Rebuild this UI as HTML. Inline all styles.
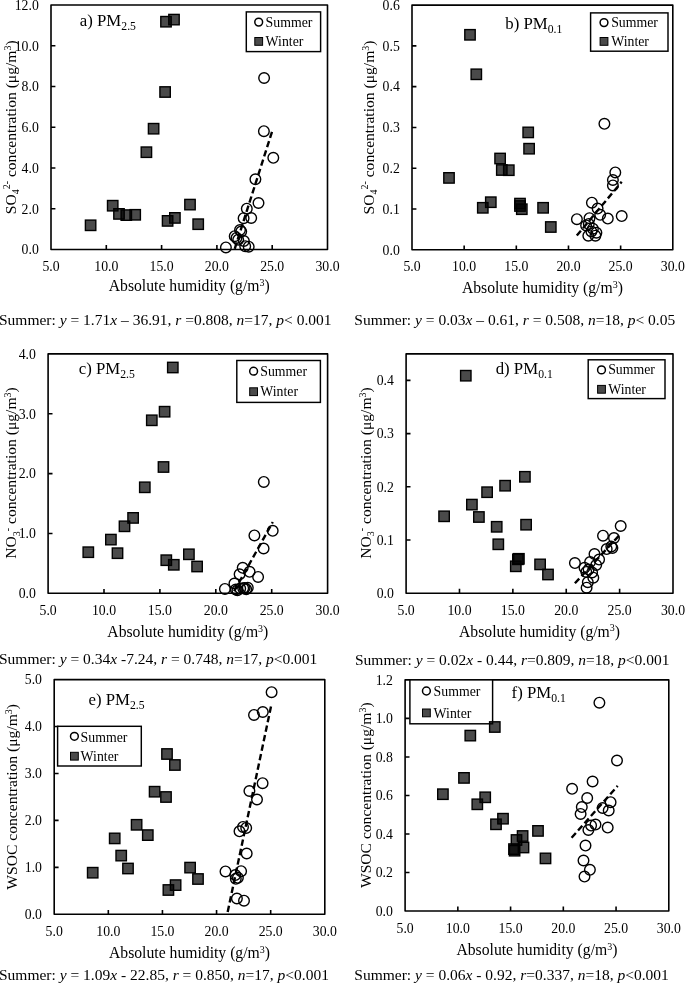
<!DOCTYPE html>
<html><head><meta charset="utf-8"><title>Figure</title>
<style>html,body{margin:0;padding:0;background:#fff}svg{display:block;will-change:transform}text{font-family:"Liberation Serif",serif;fill:#000}</style>
</head><body>
<svg width="685" height="984" viewBox="0 0 685 984">
<rect width="685" height="984" fill="#fff"/>
<g id="panel-a">
<rect x="51" y="5" width="276.5" height="244.5" fill="none" stroke="#000" stroke-width="1.6" stroke-linejoin="round"/>
<text transform="translate(51 270.9) scale(0.9 1)" font-size="15.3" text-anchor="middle">5.0</text>
<text transform="translate(106.3 270.9) scale(0.9 1)" font-size="15.3" text-anchor="middle">10.0</text>
<text transform="translate(161.6 270.9) scale(0.9 1)" font-size="15.3" text-anchor="middle">15.0</text>
<text transform="translate(216.9 270.9) scale(0.9 1)" font-size="15.3" text-anchor="middle">20.0</text>
<text transform="translate(272.2 270.9) scale(0.9 1)" font-size="15.3" text-anchor="middle">25.0</text>
<text transform="translate(327.5 270.9) scale(0.9 1)" font-size="15.3" text-anchor="middle">30.0</text>
<text transform="translate(38.8 9.8) scale(0.9 1)" font-size="15.3" text-anchor="end">12.0</text>
<text transform="translate(38.8 50.55) scale(0.9 1)" font-size="15.3" text-anchor="end">10.0</text>
<text transform="translate(38.8 91.3) scale(0.9 1)" font-size="15.3" text-anchor="end">8.0</text>
<text transform="translate(38.8 132.05) scale(0.9 1)" font-size="15.3" text-anchor="end">6.0</text>
<text transform="translate(38.8 172.8) scale(0.9 1)" font-size="15.3" text-anchor="end">4.0</text>
<text transform="translate(38.8 213.55) scale(0.9 1)" font-size="15.3" text-anchor="end">2.0</text>
<text transform="translate(38.8 254.3) scale(0.9 1)" font-size="15.3" text-anchor="end">0.0</text>
<path d="M106.3 249.5v-4.4M161.6 249.5v-4.4M216.9 249.5v-4.4M272.2 249.5v-4.4M51 45.75h4.4M51 86.5h4.4M51 127.25h4.4M51 168h4.4M51 208.75h4.4" stroke="#000" stroke-width="1.6" fill="none"/>
<text x="189.25" y="290.7" font-size="15.7" text-anchor="middle">Absolute humidity (g/m<tspan font-size="10" dy="-5.2">3</tspan><tspan dy="5.2">)</tspan></text>
<text transform="translate(16 127.3) rotate(-90)" font-size="15.6" text-anchor="middle">SO<tspan font-size="10" dy="3.2">4</tspan><tspan font-size="10" dy="-9">2-</tspan><tspan dy="5.8"> </tspan>concentration (μg/m<tspan font-size="10" dy="-5.2">3</tspan><tspan dy="5.2">)</tspan></text>
<text x="79.8" y="26.2" font-size="16.8">a) PM<tspan font-size="11.7" dy="4.2">2.5</tspan></text>
<rect x="246.3" y="11.9" width="74.3" height="39.7" fill="#fff" stroke="#000" stroke-width="1.45"/>
<circle cx="258.7" cy="22.1" r="3.9" fill="none" stroke="#000" stroke-width="1.5"/>
<rect x="254.8" y="37.5" width="7.8" height="7.8" fill="#4a4a4a" stroke="#000" stroke-width="1"/>
<text x="265.6" y="26.7" font-size="13.8">Summer</text>
<text x="265.6" y="46" font-size="13.8">Winter</text>
<g fill="#000" fill-opacity="0.71" stroke="#000" stroke-width="1.4">
<rect x="160.8" y="16.5" width="10.4" height="10.4"/>
<rect x="168.8" y="14.4" width="10.4" height="10.4"/>
<rect x="159.9" y="86.8" width="10.4" height="10.4"/>
<rect x="148.4" y="123.5" width="10.4" height="10.4"/>
<rect x="141.2" y="147" width="10.4" height="10.4"/>
<rect x="107.5" y="200.5" width="10.4" height="10.4"/>
<rect x="113.8" y="208.7" width="10.4" height="10.4"/>
<rect x="121.1" y="209.9" width="10.4" height="10.4"/>
<rect x="130" y="209.6" width="10.4" height="10.4"/>
<rect x="85.4" y="220.1" width="10.4" height="10.4"/>
<rect x="162.4" y="215.7" width="10.4" height="10.4"/>
<rect x="169.7" y="212.7" width="10.4" height="10.4"/>
<rect x="184.8" y="199.4" width="10.4" height="10.4"/>
<rect x="193" y="219" width="10.4" height="10.4"/>
</g>
<g fill="none" stroke="#000" stroke-width="1.4">
<circle cx="264.1" cy="78" r="5.3"/>
<circle cx="263.9" cy="131.2" r="5.3"/>
<circle cx="273.3" cy="157.8" r="5.3"/>
<circle cx="255.4" cy="179.3" r="5.3"/>
<circle cx="258.5" cy="203" r="5.3"/>
<circle cx="246.8" cy="208.7" r="5.3"/>
<circle cx="243.6" cy="218.2" r="5.3"/>
<circle cx="251.2" cy="218" r="5.3"/>
<circle cx="240" cy="230" r="5.3"/>
<circle cx="241.2" cy="231.5" r="5.3"/>
<circle cx="234.7" cy="236.2" r="5.3"/>
<circle cx="236.5" cy="237.9" r="5.3"/>
<circle cx="238.2" cy="239.7" r="5.3"/>
<circle cx="243.9" cy="241" r="5.3"/>
<circle cx="245.2" cy="246.2" r="5.3"/>
<circle cx="248.7" cy="246.7" r="5.3"/>
<circle cx="225.9" cy="247.4" r="5.3"/>
</g>
<line x1="272" y1="131.8" x2="234.5" y2="249.5" stroke="#000" stroke-width="2.4" stroke-dasharray="6.4 3.3"/>
<text id="cap-a" x="-1" y="324.6" font-size="15.5" xml:space="preserve">Summer: <tspan font-style="italic">y</tspan> = 1.71<tspan font-style="italic">x</tspan> – 36.91, <tspan font-style="italic">r</tspan> =0.808, <tspan font-style="italic">n</tspan>=17, <tspan font-style="italic">p</tspan>&lt; 0.001</text>
</g>
<g id="panel-b">
<rect x="412" y="5.1" width="260.8" height="244.7" fill="none" stroke="#000" stroke-width="1.6" stroke-linejoin="round"/>
<text transform="translate(412 271.1) scale(0.9 1)" font-size="15.3" text-anchor="middle">5.0</text>
<text transform="translate(464.16 271.1) scale(0.9 1)" font-size="15.3" text-anchor="middle">10.0</text>
<text transform="translate(516.32 271.1) scale(0.9 1)" font-size="15.3" text-anchor="middle">15.0</text>
<text transform="translate(568.48 271.1) scale(0.9 1)" font-size="15.3" text-anchor="middle">20.0</text>
<text transform="translate(620.64 271.1) scale(0.9 1)" font-size="15.3" text-anchor="middle">25.0</text>
<text transform="translate(672.8 271.1) scale(0.9 1)" font-size="15.3" text-anchor="middle">30.0</text>
<text transform="translate(399.8 9.9) scale(0.9 1)" font-size="15.3" text-anchor="end">0.6</text>
<text transform="translate(399.8 50.68) scale(0.9 1)" font-size="15.3" text-anchor="end">0.5</text>
<text transform="translate(399.8 91.47) scale(0.9 1)" font-size="15.3" text-anchor="end">0.4</text>
<text transform="translate(399.8 132.25) scale(0.9 1)" font-size="15.3" text-anchor="end">0.3</text>
<text transform="translate(399.8 173.03) scale(0.9 1)" font-size="15.3" text-anchor="end">0.2</text>
<text transform="translate(399.8 213.82) scale(0.9 1)" font-size="15.3" text-anchor="end">0.1</text>
<text transform="translate(399.8 254.6) scale(0.9 1)" font-size="15.3" text-anchor="end">0.0</text>
<path d="M464.16 249.8v-4.4M516.32 249.8v-4.4M568.48 249.8v-4.4M620.64 249.8v-4.4M412 45.88h4.4M412 86.67h4.4M412 127.45h4.4M412 168.23h4.4M412 209.02h4.4" stroke="#000" stroke-width="1.6" fill="none"/>
<text x="542.4" y="293.2" font-size="15.7" text-anchor="middle">Absolute humidity (g/m<tspan font-size="10" dy="-5.2">3</tspan><tspan dy="5.2">)</tspan></text>
<text transform="translate(374 127.5) rotate(-90)" font-size="15.6" text-anchor="middle">SO<tspan font-size="10" dy="3.2">4</tspan><tspan font-size="10" dy="-9">2-</tspan><tspan dy="5.8"> </tspan>concentration (μg/m<tspan font-size="10" dy="-5.2">3</tspan><tspan dy="5.2">)</tspan></text>
<text x="505.3" y="28.5" font-size="16.8">b) PM<tspan font-size="11.7" dy="4.2">0.1</tspan></text>
<rect x="590.6" y="12.9" width="77.4" height="38.3" fill="#fff" stroke="#000" stroke-width="1.45"/>
<circle cx="604" cy="22.6" r="3.9" fill="none" stroke="#000" stroke-width="1.5"/>
<rect x="600.1" y="37.5" width="7.8" height="7.8" fill="#4a4a4a" stroke="#000" stroke-width="1"/>
<text x="611.2" y="27.2" font-size="13.8">Summer</text>
<text x="611.2" y="46" font-size="13.8">Winter</text>
<g fill="#000" fill-opacity="0.71" stroke="#000" stroke-width="1.4">
<rect x="464.8" y="29.6" width="10.4" height="10.4"/>
<rect x="471.1" y="69.1" width="10.4" height="10.4"/>
<rect x="523" y="127.2" width="10.4" height="10.4"/>
<rect x="523.9" y="143.5" width="10.4" height="10.4"/>
<rect x="494.9" y="153.3" width="10.4" height="10.4"/>
<rect x="496.6" y="164.8" width="10.4" height="10.4"/>
<rect x="503.6" y="165" width="10.4" height="10.4"/>
<rect x="443.8" y="172.7" width="10.4" height="10.4"/>
<rect x="485.6" y="197" width="10.4" height="10.4"/>
<rect x="477.6" y="202.6" width="10.4" height="10.4"/>
<rect x="514.8" y="198.4" width="10.4" height="10.4"/>
<rect x="514.8" y="200.8" width="10.4" height="10.4"/>
<rect x="516.6" y="204" width="10.4" height="10.4"/>
<rect x="537.9" y="202.6" width="10.4" height="10.4"/>
<rect x="545.6" y="221.8" width="10.4" height="10.4"/>
</g>
<g fill="none" stroke="#000" stroke-width="1.4">
<circle cx="604.4" cy="123.8" r="5.3"/>
<circle cx="615.3" cy="172.4" r="5.3"/>
<circle cx="612.9" cy="180" r="5.3"/>
<circle cx="612.9" cy="185.4" r="5.3"/>
<circle cx="591.9" cy="202.7" r="5.3"/>
<circle cx="597.6" cy="208.6" r="5.3"/>
<circle cx="600.2" cy="214.8" r="5.3"/>
<circle cx="607.8" cy="218.6" r="5.3"/>
<circle cx="621.7" cy="216.1" r="5.3"/>
<circle cx="576.9" cy="219.2" r="5.3"/>
<circle cx="589.5" cy="218.2" r="5.3"/>
<circle cx="586.1" cy="225.4" r="5.3"/>
<circle cx="588.8" cy="223.9" r="5.3"/>
<circle cx="592.9" cy="228.7" r="5.3"/>
<circle cx="596.4" cy="232.7" r="5.3"/>
<circle cx="588.3" cy="235.7" r="5.3"/>
<circle cx="595.4" cy="235.7" r="5.3"/>
<circle cx="591.4" cy="231.5" r="5.3"/>
</g>
<line x1="576.8" y1="235.6" x2="621.7" y2="181.8" stroke="#000" stroke-width="2.4" stroke-dasharray="6.4 3.3"/>
<text id="cap-b" x="354.3" y="324.6" font-size="15.5" xml:space="preserve">Summer: <tspan font-style="italic">y</tspan> = 0.03<tspan font-style="italic">x</tspan> – 0.61, <tspan font-style="italic">r</tspan> = 0.508, <tspan font-style="italic">n</tspan>=18, <tspan font-style="italic">p</tspan>&lt; 0.05</text>
</g>
<g id="panel-c">
<rect x="48.1" y="353.9" width="279.5" height="239.4" fill="none" stroke="#000" stroke-width="1.6" stroke-linejoin="round"/>
<text transform="translate(48.1 614.9) scale(0.9 1)" font-size="15.3" text-anchor="middle">5.0</text>
<text transform="translate(104 614.9) scale(0.9 1)" font-size="15.3" text-anchor="middle">10.0</text>
<text transform="translate(159.9 614.9) scale(0.9 1)" font-size="15.3" text-anchor="middle">15.0</text>
<text transform="translate(215.8 614.9) scale(0.9 1)" font-size="15.3" text-anchor="middle">20.0</text>
<text transform="translate(271.7 614.9) scale(0.9 1)" font-size="15.3" text-anchor="middle">25.0</text>
<text transform="translate(327.6 614.9) scale(0.9 1)" font-size="15.3" text-anchor="middle">30.0</text>
<text transform="translate(35.9 358.7) scale(0.9 1)" font-size="15.3" text-anchor="end">4.0</text>
<text transform="translate(35.9 418.55) scale(0.9 1)" font-size="15.3" text-anchor="end">3.0</text>
<text transform="translate(35.9 478.4) scale(0.9 1)" font-size="15.3" text-anchor="end">2.0</text>
<text transform="translate(35.9 538.25) scale(0.9 1)" font-size="15.3" text-anchor="end">1.0</text>
<text transform="translate(35.9 598.1) scale(0.9 1)" font-size="15.3" text-anchor="end">0.0</text>
<path d="M104 593.3v-4.4M159.9 593.3v-4.4M215.8 593.3v-4.4M271.7 593.3v-4.4M48.1 413.75h4.4M48.1 473.6h4.4M48.1 533.45h4.4" stroke="#000" stroke-width="1.6" fill="none"/>
<text x="187.85" y="637" font-size="15.7" text-anchor="middle">Absolute humidity (g/m<tspan font-size="10" dy="-5.2">3</tspan><tspan dy="5.2">)</tspan></text>
<text transform="translate(16.3 473) rotate(-90)" font-size="15.6" text-anchor="middle">NO<tspan font-size="10" dy="3.2">3</tspan><tspan font-size="10" dy="-9">-</tspan><tspan dy="5.8"> </tspan>concentration (μg/m<tspan font-size="10" dy="-5.2">3</tspan><tspan dy="5.2">)</tspan></text>
<text x="78.7" y="374" font-size="16.8">c) PM<tspan font-size="11.7" dy="4.2">2.5</tspan></text>
<rect x="236.8" y="360.5" width="83.6" height="41.9" fill="#fff" stroke="#000" stroke-width="1.45"/>
<circle cx="253.6" cy="371.2" r="3.9" fill="none" stroke="#000" stroke-width="1.5"/>
<rect x="249.7" y="387.8" width="7.8" height="7.8" fill="#4a4a4a" stroke="#000" stroke-width="1"/>
<text x="260.3" y="375.6" font-size="13.8">Summer</text>
<text x="260.3" y="396.2" font-size="13.8">Winter</text>
<g fill="#000" fill-opacity="0.71" stroke="#000" stroke-width="1.4">
<rect x="167.6" y="362.3" width="10.4" height="10.4"/>
<rect x="159.4" y="406.5" width="10.4" height="10.4"/>
<rect x="146.6" y="415.1" width="10.4" height="10.4"/>
<rect x="158.3" y="461.8" width="10.4" height="10.4"/>
<rect x="139.6" y="482.1" width="10.4" height="10.4"/>
<rect x="127.9" y="512.7" width="10.4" height="10.4"/>
<rect x="119.3" y="521.1" width="10.4" height="10.4"/>
<rect x="105.7" y="534.4" width="10.4" height="10.4"/>
<rect x="83.1" y="547" width="10.4" height="10.4"/>
<rect x="112.3" y="548" width="10.4" height="10.4"/>
<rect x="161.1" y="555" width="10.4" height="10.4"/>
<rect x="168.6" y="559.6" width="10.4" height="10.4"/>
<rect x="183.7" y="549.1" width="10.4" height="10.4"/>
<rect x="191.9" y="561.3" width="10.4" height="10.4"/>
</g>
<g fill="none" stroke="#000" stroke-width="1.4">
<circle cx="263.8" cy="481.9" r="5.3"/>
<circle cx="272.7" cy="530.8" r="5.3"/>
<circle cx="254.4" cy="535.4" r="5.3"/>
<circle cx="263.6" cy="548.5" r="5.3"/>
<circle cx="242.7" cy="567.8" r="5.3"/>
<circle cx="249.6" cy="571.8" r="5.3"/>
<circle cx="239.6" cy="574.3" r="5.3"/>
<circle cx="258.1" cy="576.9" r="5.3"/>
<circle cx="234.4" cy="583.5" r="5.3"/>
<circle cx="224.9" cy="588.9" r="5.3"/>
<circle cx="235.8" cy="589.5" r="5.3"/>
<circle cx="237.4" cy="590.3" r="5.3"/>
<circle cx="240.2" cy="588.6" r="5.3"/>
<circle cx="243.2" cy="588.2" r="5.3"/>
<circle cx="244.6" cy="588" r="5.3"/>
<circle cx="246.2" cy="589.3" r="5.3"/>
<circle cx="247.8" cy="587.8" r="5.3"/>
</g>
<line x1="272.8" y1="522" x2="233" y2="593.3" stroke="#000" stroke-width="2.4" stroke-dasharray="6.4 3.3" stroke-dashoffset="4.7"/>
<text id="cap-c" x="-1" y="663.7" font-size="15.5" xml:space="preserve">Summer: <tspan font-style="italic">y</tspan> = 0.34<tspan font-style="italic">x</tspan> -7.24, <tspan font-style="italic">r</tspan> = 0.748, <tspan font-style="italic">n</tspan>=17, <tspan font-style="italic">p</tspan>&lt;0.001</text>
</g>
<g id="panel-d">
<rect x="406.1" y="353.9" width="266.9" height="239.3" fill="none" stroke="#000" stroke-width="1.6" stroke-linejoin="round"/>
<text transform="translate(406.1 614.9) scale(0.9 1)" font-size="15.3" text-anchor="middle">5.0</text>
<text transform="translate(459.48 614.9) scale(0.9 1)" font-size="15.3" text-anchor="middle">10.0</text>
<text transform="translate(512.86 614.9) scale(0.9 1)" font-size="15.3" text-anchor="middle">15.0</text>
<text transform="translate(566.24 614.9) scale(0.9 1)" font-size="15.3" text-anchor="middle">20.0</text>
<text transform="translate(619.62 614.9) scale(0.9 1)" font-size="15.3" text-anchor="middle">25.0</text>
<text transform="translate(673 614.9) scale(0.9 1)" font-size="15.3" text-anchor="middle">30.0</text>
<text transform="translate(393.9 385.19) scale(0.9 1)" font-size="15.3" text-anchor="end">0.4</text>
<text transform="translate(393.9 438.4) scale(0.9 1)" font-size="15.3" text-anchor="end">0.3</text>
<text transform="translate(393.9 491.6) scale(0.9 1)" font-size="15.3" text-anchor="end">0.2</text>
<text transform="translate(393.9 544.8) scale(0.9 1)" font-size="15.3" text-anchor="end">0.1</text>
<text transform="translate(393.9 598) scale(0.9 1)" font-size="15.3" text-anchor="end">0.0</text>
<path d="M459.48 593.2v-4.4M512.86 593.2v-4.4M566.24 593.2v-4.4M619.62 593.2v-4.4M406.1 380.39h4.4M406.1 433.6h4.4M406.1 486.8h4.4M406.1 540h4.4" stroke="#000" stroke-width="1.6" fill="none"/>
<text x="539.55" y="636.6" font-size="15.7" text-anchor="middle">Absolute humidity (g/m<tspan font-size="10" dy="-5.2">3</tspan><tspan dy="5.2">)</tspan></text>
<text transform="translate(371 473) rotate(-90)" font-size="15.6" text-anchor="middle">NO<tspan font-size="10" dy="3.2">3</tspan><tspan font-size="10" dy="-9">-</tspan><tspan dy="5.8"> </tspan>concentration (μg/m<tspan font-size="10" dy="-5.2">3</tspan><tspan dy="5.2">)</tspan></text>
<text x="495.7" y="374" font-size="16.8">d) PM<tspan font-size="11.7" dy="4.2">0.1</tspan></text>
<rect x="588.2" y="359.8" width="76.8" height="38.8" fill="#fff" stroke="#000" stroke-width="1.45"/>
<circle cx="601.5" cy="369.9" r="3.9" fill="none" stroke="#000" stroke-width="1.5"/>
<rect x="597.6" y="385.4" width="7.8" height="7.8" fill="#4a4a4a" stroke="#000" stroke-width="1"/>
<text x="608.2" y="374.3" font-size="13.8">Summer</text>
<text x="608.2" y="393.9" font-size="13.8">Winter</text>
<g fill="#000" fill-opacity="0.71" stroke="#000" stroke-width="1.4">
<rect x="460.6" y="370.5" width="10.4" height="10.4"/>
<rect x="519.7" y="471.6" width="10.4" height="10.4"/>
<rect x="499.9" y="480.5" width="10.4" height="10.4"/>
<rect x="481.9" y="487" width="10.4" height="10.4"/>
<rect x="466.7" y="499.4" width="10.4" height="10.4"/>
<rect x="438.9" y="511.1" width="10.4" height="10.4"/>
<rect x="473.7" y="511.8" width="10.4" height="10.4"/>
<rect x="491.5" y="521.6" width="10.4" height="10.4"/>
<rect x="520.9" y="519.5" width="10.4" height="10.4"/>
<rect x="493.1" y="539.1" width="10.4" height="10.4"/>
<rect x="510.6" y="561.1" width="10.4" height="10.4"/>
<rect x="512.7" y="554.1" width="10.4" height="10.4"/>
<rect x="513.7" y="553.6" width="10.4" height="10.4"/>
<rect x="534.9" y="559.2" width="10.4" height="10.4"/>
<rect x="542.8" y="569.3" width="10.4" height="10.4"/>
</g>
<g fill="none" stroke="#000" stroke-width="1.4">
<circle cx="620.7" cy="526" r="5.3"/>
<circle cx="603" cy="535.7" r="5.3"/>
<circle cx="614" cy="538" r="5.3"/>
<circle cx="611.3" cy="546.6" r="5.3"/>
<circle cx="612.4" cy="548" r="5.3"/>
<circle cx="606.7" cy="549.1" r="5.3"/>
<circle cx="594.5" cy="554.1" r="5.3"/>
<circle cx="599.1" cy="559.6" r="5.3"/>
<circle cx="590.1" cy="562" r="5.3"/>
<circle cx="574.9" cy="563.1" r="5.3"/>
<circle cx="596.2" cy="564.9" r="5.3"/>
<circle cx="584.5" cy="567.8" r="5.3"/>
<circle cx="588.6" cy="569.6" r="5.3"/>
<circle cx="586.3" cy="571.9" r="5.3"/>
<circle cx="592.1" cy="572.5" r="5.3"/>
<circle cx="593.3" cy="577.7" r="5.3"/>
<circle cx="587.8" cy="582.2" r="5.3"/>
<circle cx="586.6" cy="587.7" r="5.3"/>
</g>
<line x1="574.9" y1="583.3" x2="620.7" y2="533.8" stroke="#000" stroke-width="2.4" stroke-dasharray="6.4 3.3"/>
<text id="cap-d" x="355" y="664.5" font-size="15.5" xml:space="preserve">Summer: <tspan font-style="italic">y</tspan> = 0.02<tspan font-style="italic">x</tspan> - 0.44, <tspan font-style="italic">r</tspan>=0.809, <tspan font-style="italic">n</tspan>=18, <tspan font-style="italic">p</tspan>&lt;0.001</text>
</g>
<g id="panel-e">
<rect x="54.2" y="679.6" width="270.6" height="234.7" fill="none" stroke="#000" stroke-width="1.6" stroke-linejoin="round"/>
<text transform="translate(54.2 935.9) scale(0.9 1)" font-size="15.3" text-anchor="middle">5.0</text>
<text transform="translate(108.32 935.9) scale(0.9 1)" font-size="15.3" text-anchor="middle">10.0</text>
<text transform="translate(162.44 935.9) scale(0.9 1)" font-size="15.3" text-anchor="middle">15.0</text>
<text transform="translate(216.56 935.9) scale(0.9 1)" font-size="15.3" text-anchor="middle">20.0</text>
<text transform="translate(270.68 935.9) scale(0.9 1)" font-size="15.3" text-anchor="middle">25.0</text>
<text transform="translate(324.8 935.9) scale(0.9 1)" font-size="15.3" text-anchor="middle">30.0</text>
<text transform="translate(42 684.4) scale(0.9 1)" font-size="15.3" text-anchor="end">5.0</text>
<text transform="translate(42 731.34) scale(0.9 1)" font-size="15.3" text-anchor="end">4.0</text>
<text transform="translate(42 778.28) scale(0.9 1)" font-size="15.3" text-anchor="end">3.0</text>
<text transform="translate(42 825.22) scale(0.9 1)" font-size="15.3" text-anchor="end">2.0</text>
<text transform="translate(42 872.16) scale(0.9 1)" font-size="15.3" text-anchor="end">1.0</text>
<text transform="translate(42 919.1) scale(0.9 1)" font-size="15.3" text-anchor="end">0.0</text>
<path d="M108.32 914.3v-4.4M162.44 914.3v-4.4M216.56 914.3v-4.4M270.68 914.3v-4.4M54.2 726.54h4.4M54.2 773.48h4.4M54.2 820.42h4.4M54.2 867.36h4.4" stroke="#000" stroke-width="1.6" fill="none"/>
<text x="189.5" y="957.7" font-size="15.7" text-anchor="middle">Absolute humidity (g/m<tspan font-size="10" dy="-5.2">3</tspan><tspan dy="5.2">)</tspan></text>
<text transform="translate(17 796.8) rotate(-90)" font-size="15.6" text-anchor="middle">WSOC concentration (μg/m<tspan font-size="10" dy="-5.2">3</tspan><tspan dy="5.2">)</tspan></text>
<text x="88.5" y="705" font-size="16.8">e) PM<tspan font-size="11.7" dy="4.2">2.5</tspan></text>
<rect x="57.6" y="726.3" width="83.7" height="39.7" fill="#fff" stroke="#000" stroke-width="1.45"/>
<circle cx="74.4" cy="736.3" r="3.9" fill="none" stroke="#000" stroke-width="1.5"/>
<rect x="70.5" y="752.3" width="7.8" height="7.8" fill="#4a4a4a" stroke="#000" stroke-width="1"/>
<text x="80.6" y="741.5" font-size="13.8">Summer</text>
<text x="80.6" y="760.9" font-size="13.8">Winter</text>
<g fill="#000" fill-opacity="0.71" stroke="#000" stroke-width="1.4">
<rect x="161.8" y="748.8" width="10.4" height="10.4"/>
<rect x="169.7" y="759.8" width="10.4" height="10.4"/>
<rect x="149.4" y="786.5" width="10.4" height="10.4"/>
<rect x="160.8" y="791.8" width="10.4" height="10.4"/>
<rect x="131.4" y="819.6" width="10.4" height="10.4"/>
<rect x="142.6" y="829.9" width="10.4" height="10.4"/>
<rect x="109.5" y="833.2" width="10.4" height="10.4"/>
<rect x="116" y="850.4" width="10.4" height="10.4"/>
<rect x="122.8" y="863.3" width="10.4" height="10.4"/>
<rect x="87.5" y="867.5" width="10.4" height="10.4"/>
<rect x="184.9" y="862.4" width="10.4" height="10.4"/>
<rect x="192.8" y="873.8" width="10.4" height="10.4"/>
<rect x="170.4" y="879.9" width="10.4" height="10.4"/>
<rect x="163.2" y="884.8" width="10.4" height="10.4"/>
</g>
<g fill="none" stroke="#000" stroke-width="1.4">
<circle cx="271.6" cy="692.2" r="5.3"/>
<circle cx="262.8" cy="712" r="5.3"/>
<circle cx="254" cy="714.9" r="5.3"/>
<circle cx="262.6" cy="783.2" r="5.3"/>
<circle cx="249.4" cy="791" r="5.3"/>
<circle cx="257" cy="799.5" r="5.3"/>
<circle cx="243" cy="826.9" r="5.3"/>
<circle cx="246.2" cy="827.9" r="5.3"/>
<circle cx="239.5" cy="831.3" r="5.3"/>
<circle cx="246.7" cy="853.5" r="5.3"/>
<circle cx="225.5" cy="871.4" r="5.3"/>
<circle cx="241.1" cy="871.2" r="5.3"/>
<circle cx="235.3" cy="875.1" r="5.3"/>
<circle cx="237.9" cy="877.8" r="5.3"/>
<circle cx="235.8" cy="878.8" r="5.3"/>
<circle cx="236.9" cy="898.5" r="5.3"/>
<circle cx="244" cy="900.7" r="5.3"/>
</g>
<line x1="271" y1="706.5" x2="227.2" y2="914.3" stroke="#000" stroke-width="2.4" stroke-dasharray="6.4 3.3"/>
<text id="cap-e" x="-1" y="980.3" font-size="15.5" xml:space="preserve">Summer: <tspan font-style="italic">y</tspan> = 1.09<tspan font-style="italic">x</tspan> - 22.85, <tspan font-style="italic">r</tspan> = 0.850, <tspan font-style="italic">n</tspan>=17, <tspan font-style="italic">p</tspan>&lt;0.001</text>
</g>
<g id="panel-f">
<rect x="405.1" y="679.9" width="263.7" height="231.1" fill="none" stroke="#000" stroke-width="1.6" stroke-linejoin="round"/>
<text transform="translate(405.1 932.8) scale(0.9 1)" font-size="15.3" text-anchor="middle">5.0</text>
<text transform="translate(457.84 932.8) scale(0.9 1)" font-size="15.3" text-anchor="middle">10.0</text>
<text transform="translate(510.58 932.8) scale(0.9 1)" font-size="15.3" text-anchor="middle">15.0</text>
<text transform="translate(563.32 932.8) scale(0.9 1)" font-size="15.3" text-anchor="middle">20.0</text>
<text transform="translate(616.06 932.8) scale(0.9 1)" font-size="15.3" text-anchor="middle">25.0</text>
<text transform="translate(668.8 932.8) scale(0.9 1)" font-size="15.3" text-anchor="middle">30.0</text>
<text transform="translate(392.9 684.7) scale(0.9 1)" font-size="15.3" text-anchor="end">1.2</text>
<text transform="translate(392.9 723.22) scale(0.9 1)" font-size="15.3" text-anchor="end">1.0</text>
<text transform="translate(392.9 761.73) scale(0.9 1)" font-size="15.3" text-anchor="end">0.8</text>
<text transform="translate(392.9 800.25) scale(0.9 1)" font-size="15.3" text-anchor="end">0.6</text>
<text transform="translate(392.9 838.77) scale(0.9 1)" font-size="15.3" text-anchor="end">0.4</text>
<text transform="translate(392.9 877.28) scale(0.9 1)" font-size="15.3" text-anchor="end">0.2</text>
<text transform="translate(392.9 915.8) scale(0.9 1)" font-size="15.3" text-anchor="end">0.0</text>
<path d="M457.84 911v-4.4M510.58 911v-4.4M563.32 911v-4.4M616.06 911v-4.4M405.1 718.42h4.4M405.1 756.93h4.4M405.1 795.45h4.4M405.1 833.97h4.4M405.1 872.48h4.4" stroke="#000" stroke-width="1.6" fill="none"/>
<text x="536.95" y="954.7" font-size="15.7" text-anchor="middle">Absolute humidity (g/m<tspan font-size="10" dy="-5.2">3</tspan><tspan dy="5.2">)</tspan></text>
<text transform="translate(371 795.2) rotate(-90)" font-size="15.6" text-anchor="middle">WSOC concentration (μg/m<tspan font-size="10" dy="-5.2">3</tspan><tspan dy="5.2">)</tspan></text>
<text x="511.6" y="698.2" font-size="16.8">f) PM<tspan font-size="11.7" dy="4.2">0.1</tspan></text>
<rect x="409.9" y="679.9" width="82.7" height="43.9" fill="#fff" stroke="#000" stroke-width="1.45"/>
<circle cx="426.4" cy="691" r="3.9" fill="none" stroke="#000" stroke-width="1.5"/>
<rect x="422.5" y="709" width="7.8" height="7.8" fill="#4a4a4a" stroke="#000" stroke-width="1"/>
<text x="433.6" y="696.2" font-size="13.8">Summer</text>
<text x="433.6" y="717.7" font-size="13.8">Winter</text>
<g fill="#000" fill-opacity="0.71" stroke="#000" stroke-width="1.4">
<rect x="489.6" y="721.8" width="10.4" height="10.4"/>
<rect x="465.1" y="730.4" width="10.4" height="10.4"/>
<rect x="458.8" y="772.7" width="10.4" height="10.4"/>
<rect x="437.7" y="789" width="10.4" height="10.4"/>
<rect x="480" y="792.1" width="10.4" height="10.4"/>
<rect x="472.1" y="799.1" width="10.4" height="10.4"/>
<rect x="497.8" y="813.5" width="10.4" height="10.4"/>
<rect x="490.8" y="819.1" width="10.4" height="10.4"/>
<rect x="532.8" y="825.7" width="10.4" height="10.4"/>
<rect x="517.4" y="830.8" width="10.4" height="10.4"/>
<rect x="511.3" y="834.8" width="10.4" height="10.4"/>
<rect x="518.3" y="842.3" width="10.4" height="10.4"/>
<rect x="508.8" y="843.9" width="10.4" height="10.4"/>
<rect x="509.4" y="845.5" width="10.4" height="10.4"/>
<rect x="540.3" y="853.2" width="10.4" height="10.4"/>
</g>
<g fill="none" stroke="#000" stroke-width="1.4">
<circle cx="599.4" cy="702.7" r="5.3"/>
<circle cx="617" cy="760.5" r="5.3"/>
<circle cx="592.6" cy="781.5" r="5.3"/>
<circle cx="572.1" cy="788.8" r="5.3"/>
<circle cx="587.2" cy="798" r="5.3"/>
<circle cx="610.6" cy="802.2" r="5.3"/>
<circle cx="581.8" cy="807.1" r="5.3"/>
<circle cx="602.6" cy="808" r="5.3"/>
<circle cx="608.7" cy="810.5" r="5.3"/>
<circle cx="580.6" cy="813.9" r="5.3"/>
<circle cx="591.1" cy="825.6" r="5.3"/>
<circle cx="595.5" cy="824.6" r="5.3"/>
<circle cx="588.4" cy="830" r="5.3"/>
<circle cx="607.7" cy="827.6" r="5.3"/>
<circle cx="585.5" cy="845.6" r="5.3"/>
<circle cx="583.5" cy="860.5" r="5.3"/>
<circle cx="589.9" cy="869.8" r="5.3"/>
<circle cx="584.5" cy="876.6" r="5.3"/>
</g>
<line x1="571.6" y1="837.8" x2="617.7" y2="785.9" stroke="#000" stroke-width="2.4" stroke-dasharray="6.4 3.3"/>
<text id="cap-f" x="354.3" y="980.3" font-size="15.5" xml:space="preserve">Summer: <tspan font-style="italic">y</tspan> = 0.06<tspan font-style="italic">x</tspan> - 0.92, <tspan font-style="italic">r</tspan>=0.337, <tspan font-style="italic">n</tspan>=18, <tspan font-style="italic">p</tspan>&lt;0.001</text>
</g>
</svg></body></html>
